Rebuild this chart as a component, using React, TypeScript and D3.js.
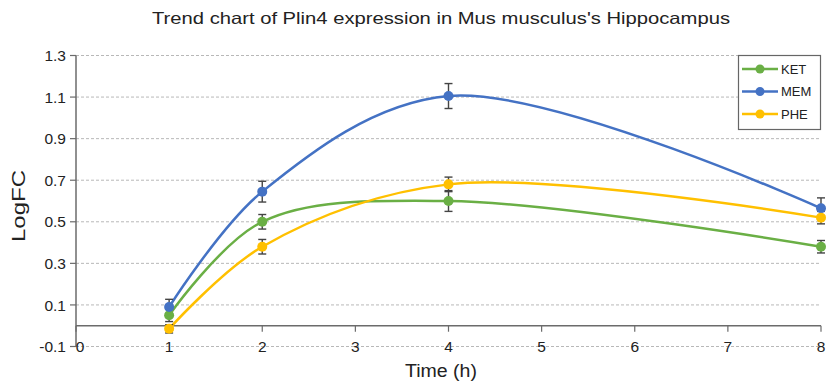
import React from "react";
import * as d3 from "d3";

const times = [1, 2, 4, 8];
const ketValues = [0.05, 0.5, 0.6, 0.38];
const ketErrors = [0.03, 0.035, 0.05, 0.03];
const memValues = [0.09, 0.645, 1.105, 0.565];
const memErrors = [0.037, 0.05, 0.06, 0.05];
const pheValues = [-0.015, 0.38, 0.68, 0.52];
const pheErrors = [0.02, 0.035, 0.035, 0.03];
const seriesNames = ["KET", "MEM", "PHE"];
const seriesColors = ["#6aaf45", "#4472c4", "#ffc000"];
const yTicks = [-0.1, 0.1, 0.3, 0.5, 0.7, 0.9, 1.1, 1.3];
const xTicks = [0, 1, 2, 3, 4, 5, 6, 7, 8];

const W = 826;
const H = 390;
const font = "'Liberation Sans', Arial, sans-serif";

export default function App() {
  const x = d3.scaleLinear().domain([0, 8]).range([76, 821]);
  const y = d3.scaleLinear().domain([-0.1, 1.3]).range([346.5, 55.5]);
  const line = d3
    .line<[number, number]>()
    .x((d) => x(d[0]))
    .y((d) => y(d[1]))
    .curve(d3.curveCatmullRom.alpha(0.5));

  const series = [
    { name: seriesNames[0], color: seriesColors[0], values: ketValues, errors: ketErrors },
    { name: seriesNames[1], color: seriesColors[1], values: memValues, errors: memErrors },
    { name: seriesNames[2], color: seriesColors[2], values: pheValues, errors: pheErrors },
  ];

  const axisColor = "#6b6b6b";
  const textColor = "#222";

  return (
    <svg
      width={W}
      height={H}
      style={{ position: "absolute", left: 0, top: 0, background: "#fff" }}
      fontFamily={font}
    >
      <rect width={W} height={H} fill="#fff" />
      <text
        x={152}
        y={24}
        fontSize={16.5}
        fill={textColor}
        textLength={578}
        lengthAdjust="spacingAndGlyphs"
      >
        Trend chart of Plin4 expression in Mus musculus's Hippocampus
      </text>

      {/* grid */}
      {yTicks.map((t) => (
        <line
          key={"g" + t}
          x1={x(0)}
          x2={x(8)}
          y1={y(t)}
          y2={y(t)}
          stroke="#b8b8b8"
          strokeWidth={1}
          strokeDasharray="3,2"
        />
      ))}

      {/* y axis */}
      <line x1={x(0)} x2={x(0)} y1={y(1.3)} y2={y(-0.1)} stroke={axisColor} strokeWidth={1.5} />
      {yTicks.map((t) => (
        <g key={"y" + t}>
          <line x1={x(0) - 6} x2={x(0)} y1={y(t)} y2={y(t)} stroke={axisColor} strokeWidth={1.2} />
          <text
            x={x(0) - 10}
            y={y(t)}
            dy="0.36em"
            textAnchor="end"
            fontSize={15.5}
            fill={textColor}
          >
            {t.toFixed(1)}
          </text>
        </g>
      ))}

      {/* x axis at 0 */}
      <line x1={x(0)} x2={x(8)} y1={y(0)} y2={y(0)} stroke={axisColor} strokeWidth={1.5} />
      {xTicks.map((t) => (
        <g key={"x" + t}>
          <line x1={x(t)} x2={x(t)} y1={y(0)} y2={y(0) + 6} stroke={axisColor} strokeWidth={1.2} />
          <text
            x={x(t) + (t === 0 ? 4 : 0)}
            y={y(-0.1)}
            dy="0.36em"
            textAnchor="middle"
            fontSize={15.5}
            fill={textColor}
          >
            {t}
          </text>
        </g>
      ))}

      <text
        x={405}
        y={377}
        fontSize={18}
        fill={textColor}
        textLength={72}
        lengthAdjust="spacingAndGlyphs"
      >
        Time (h)
      </text>
      <text
        transform={`translate(25,242) rotate(-90)`}
        fontSize={18}
        fill={textColor}
        textLength={72}
        lengthAdjust="spacingAndGlyphs"
      >
        LogFC
      </text>

      {/* lines */}
      {series.map((s) => (
        <path
          key={"l" + s.name}
          d={line(times.map((t, i) => [t, s.values[i]]) as [number, number][]) || ""}
          fill="none"
          stroke={s.color}
          strokeWidth={2.5}
        />
      ))}

      {/* error bars */}
      {series.map((s) =>
        times.map((t, i) => {
          const cx = x(t);
          const top = y(s.values[i] + s.errors[i]);
          const bot = y(s.values[i] - s.errors[i]);
          return (
            <g key={"e" + s.name + t} stroke="#444" strokeWidth={1.4}>
              <line x1={cx} x2={cx} y1={top} y2={bot} />
              <line x1={cx - 4} x2={cx + 4} y1={top} y2={top} />
              <line x1={cx - 4} x2={cx + 4} y1={bot} y2={bot} />
            </g>
          );
        })
      )}

      {/* markers */}
      {series.map((s) =>
        times.map((t, i) => (
          <circle key={"m" + s.name + t} cx={x(t)} cy={y(s.values[i])} r={5} fill={s.color} />
        ))
      )}

      {/* legend */}
      <rect x={738.5} y={55.5} width={82} height={74} fill="#fff" stroke="#666" strokeWidth={1.2} />
      {series.map((s, i) => {
        const ly = 69 + i * 22.5;
        return (
          <g key={"lg" + s.name}>
            <line x1={742} x2={778} y1={ly} y2={ly} stroke={s.color} strokeWidth={2.5} />
            <circle cx={760} cy={ly} r={4.5} fill={s.color} />
            <text x={781} y={ly} dy="0.36em" fontSize={13} fill={textColor}>
              {s.name}
            </text>
          </g>
        );
      })}
    </svg>
  );
}
